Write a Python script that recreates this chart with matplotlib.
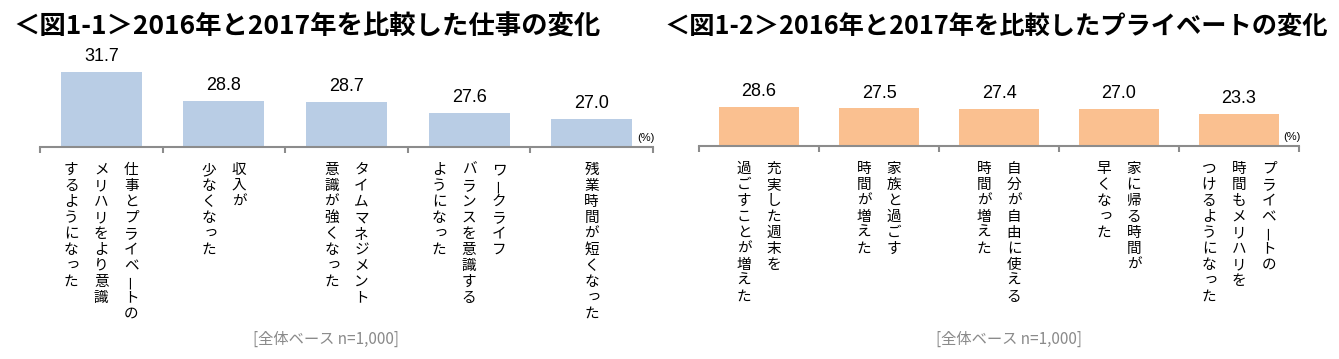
import numpy as np
import matplotlib
matplotlib.use("Agg")
import matplotlib.pyplot as plt
from matplotlib import font_manager

plt.rcParams['font.family'] = ['Noto Sans CJK JP', 'DejaVu Sans']

# data
titles = ["＜図1-1＞2016年と2017年を比較した仕事の変化",
          "＜図1-2＞2016年と2017年を比較したプライベートの変化"]
work_labels = ["仕事とプライベートの\nメリハリをより意識\nするようになった",
               "収入が\n少なくなった",
               "タイムマネジメント\n意識が強くなった",
               "ワークライフ\nバランスを意識する\nようになった",
               "残業時間が短くなった"]
work_values = [31.7, 28.8, 28.7, 27.6, 27.0]
private_labels = ["充実した週末を\n過ごすことが増えた",
                  "家族と過ごす\n時間が増えた",
                  "自分が自由に使える\n時間が増えた",
                  "家に帰る時間が\n早くなった",
                  "プライベートの\n時間もメリハリを\nつけるようになった"]
private_values = [28.6, 27.5, 27.4, 27.0, 23.3]
base_note = "[全体ベース n=1,000]"

names = [f.name for f in font_manager.fontManager.ttflist]
num_font = 'Liberation Sans Narrow' if 'Liberation Sans Narrow' in names else 'Liberation Sans'

W, H = 1339, 359
fig = plt.figure(figsize=(W / 100, H / 100), dpi=100)

SMALL = set("っッょゃゅぁぃぅぇぉァィゥェォャュョ")


def vertical_label(ax, i, text, top=23, step=16, colsep=30):
    cols = text.split("\n")
    n = len(cols)
    for c, col in enumerate(cols):
        # first column is the rightmost one (tategaki)
        dx = ((n - 1) / 2 - c) * colsep
        for k, ch in enumerate(col):
            dy = -(top + k * step)
            rot = 0
            ox, oy = 0, 0
            if ch == "ー":
                rot = 90
            if ch in SMALL:
                ox, oy = 2, 2
            ax.annotate(ch, xy=(i, 0), xycoords=('data', 'axes fraction'),
                        xytext=(dx + ox, dy + oy), textcoords='offset pixels',
                        ha='center', va='center', fontsize=10.5, rotation=rot,
                        color='black', annotation_clip=False)


def panel(rect, values, labels, color, ylim, title, title_x, title_size, note_x):
    ax = fig.add_axes(rect)
    x = np.arange(len(values))
    ax.bar(x, values, width=0.66, color=color, zorder=2)
    ax.set_xlim(-0.5, len(values) - 0.5)
    ax.set_ylim(*ylim)
    for s in ['top', 'right', 'left']:
        ax.spines[s].set_visible(False)
    ax.spines['bottom'].set_color('#8c8c8c')
    ax.spines['bottom'].set_linewidth(1.5)
    ax.set_yticks([])
    ax.set_xticks(np.arange(len(values) + 1) - 0.5)
    ax.set_xticklabels([])
    ax.tick_params(axis='x', direction='out', length=4.5, width=1.5, color='#8c8c8c')
    for xi, v in zip(x, values):
        ax.annotate(f"{v:.1f}", xy=(xi, v), xytext=(0, 5), textcoords='offset points',
                    ha='center', va='bottom', fontsize=13, family=num_font)
    for xi, lab in zip(x, labels):
        vertical_label(ax, xi, lab)
    ax.annotate("(%)", xy=(1, 0), xycoords='axes fraction', xytext=(-7, 9),
                textcoords='offset pixels', ha='center', va='center', fontsize=8,
                family=num_font)
    fig.text(title_x / W, 1 - 27 / H, title, ha='left', va='center',
             fontsize=title_size, fontweight='bold')
    fig.text(note_x / W, 1 - 339 / H, base_note, ha='center', va='center',
             fontsize=11, color='#8a8a8a')
    return ax


panel([40 / W, 1 - 147 / H, 613 / W, 87 / H], work_values, work_labels,
      '#B9CDE5', (24.2, 32.9), titles[0], 13, 19, 326)
panel([699 / W, 1 - 146 / H, 600 / W, 86 / H], private_values, private_labels,
      '#FAC090', (0, 63.0), titles[1], 664, 18.2, 1009)

fig.savefig("out.png", dpi=100)
